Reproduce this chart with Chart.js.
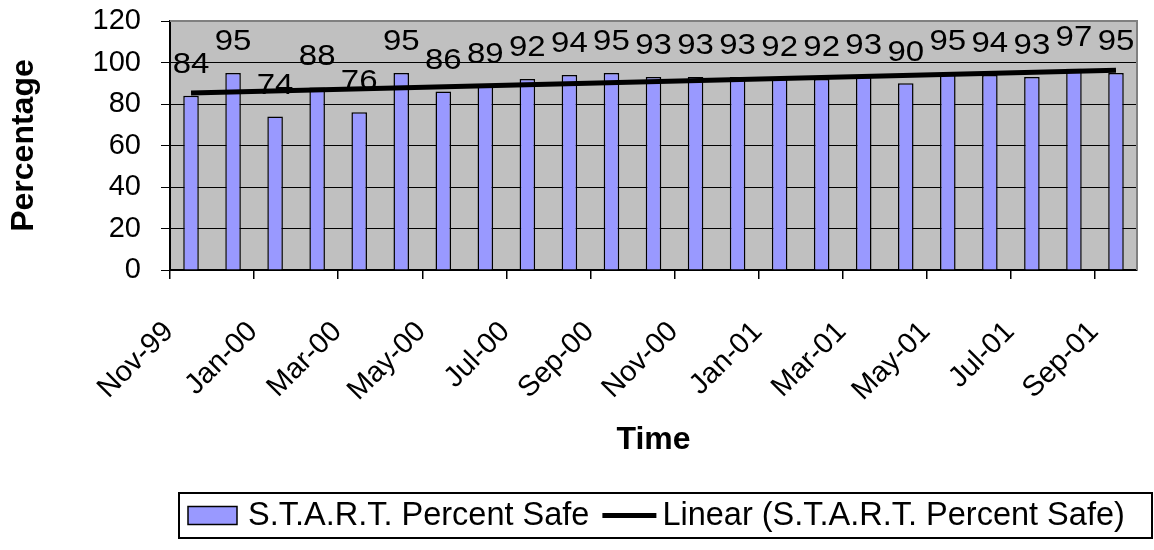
<!DOCTYPE html>
<html>
<head>
<meta charset="utf-8">
<script src="https://cdn.jsdelivr.net/npm/chart.js@4.4.1/dist/chart.umd.min.js"></script>
<style>
html,body{margin:0;padding:0;background:#ffffff;}
#wrap{width:1154px;height:550px;position:relative;}
</style>
</head>
<body>
<div id="wrap"><canvas id="c"></canvas></div>
<script>
// ---- data ----
const categories = ['Nov-99','Dec-99','Jan-00','Feb-00','Mar-00','Apr-00','May-00','Jun-00','Jul-00','Aug-00','Sep-00','Oct-00','Nov-00','Dec-00','Jan-01','Feb-01','Mar-01','Apr-01','May-01','Jun-01','Jul-01','Aug-01','Sep-01'];
const safePercent = [84,95,74,88,76,95,86,89,92,94,95,93,93,93,92,92,93,90,95,94,93,97,95];
const trendEnds = [85.3, 96.3];            // linear trend value at first and last month
const yTicks = [0,20,40,60,80,100,120];
const seriesName = 'S.T.A.R.T. Percent Safe';
const trendName = 'Linear (S.T.A.R.T. Percent Safe)';
const xTitle = 'Time';
const yTitle = 'Percentage';

const FONT = '"Liberation Sans", Arial, Helvetica, sans-serif';
const BAR_FILL = '#9999ff';

const trendData = categories.map((c, i) => i === 0 ? trendEnds[0] : (i === categories.length - 1 ? trendEnds[1] : null));

const plotBg = {
  id: 'plotBg',
  beforeDraw(chart) {
    const {ctx, chartArea: a} = chart;
    ctx.save();
    ctx.fillStyle = '#c0c0c0';
    ctx.fillRect(a.left, a.top, a.right - a.left, a.bottom - a.top);
    ctx.restore();
  },
  afterDatasetsDraw(chart) {
    const {ctx, chartArea: a} = chart;
    ctx.save();
    ctx.strokeStyle = '#808080';
    ctx.lineWidth = 2;
    ctx.beginPath();
    ctx.moveTo(a.left, a.top);
    ctx.lineTo(a.right, a.top);
    ctx.lineTo(a.right, a.bottom);
    ctx.stroke();
    // data labels
    const meta = chart.getDatasetMeta(0);
    const ys = chart.scales.y;
    ctx.fillStyle = '#000';
    ctx.font = '30px ' + FONT;
    ctx.textAlign = 'center';
    ctx.textBaseline = 'middle';
    meta.data.forEach((bar, i) => {
      const v = chart.data.datasets[0].data[i];
      ctx.save();
      ctx.translate(bar.x, ys.getPixelForValue(v) - 31);
      ctx.scale(1.1, 1);
      ctx.fillText(String(v), 0, 0);
      ctx.restore();
    });
    ctx.restore();
  }
};

const boxLegend = {
  id: 'boxLegend',
  afterDraw(chart) {
    const ctx = chart.ctx;
    const top = 493, bottom = 538, left = 179, right = 1152;
    const midY = (top + bottom) / 2;
    ctx.save();
    ctx.fillStyle = '#fff';
    ctx.fillRect(left, top, right - left, bottom - top);
    ctx.strokeStyle = '#000';
    ctx.lineWidth = 2;
    ctx.strokeRect(left, top, right - left, bottom - top);
    // bar swatch
    ctx.fillStyle = BAR_FILL;
    ctx.fillRect(188, midY - 9, 49, 18);
    ctx.lineWidth = 1.5;
    ctx.strokeRect(188, midY - 9, 49, 18);
    ctx.font = '32.5px ' + FONT;
    ctx.fillStyle = '#000';
    ctx.textAlign = 'left';
    ctx.textBaseline = 'middle';
    const t1x = 248;
    ctx.fillText(chart.data.datasets[0].label, t1x, midY + 1);
    const w1 = ctx.measureText(chart.data.datasets[0].label).width;
    const lx = t1x + w1 + 13;
    ctx.lineWidth = 5;
    ctx.beginPath();
    ctx.moveTo(lx, midY);
    ctx.lineTo(lx + 54, midY);
    ctx.stroke();
    ctx.fillText(chart.data.datasets[1].label, lx + 60, midY + 1);
    ctx.restore();
  }
};

new Chart(document.getElementById('c'), {
  type: 'bar',
  data: {
    labels: categories,
    datasets: [
      {
        type: 'bar',
        label: seriesName,
        data: safePercent,
        backgroundColor: BAR_FILL,
        borderColor: '#000',
        borderWidth: 1.5,
        barPercentage: 0.37,
        categoryPercentage: 1,
        order: 2
      },
      {
        type: 'line',
        label: trendName,
        data: trendData,
        borderColor: '#000',
        borderWidth: 5,
        pointRadius: 0,
        spanGaps: true,
        fill: false,
        tension: 0,
        order: 1
      }
    ]
  },
  options: {
    responsive: true,
    maintainAspectRatio: false,
    animation: false,
    devicePixelRatio: 1,
    layout: { padding: { top: 21, right: 17, bottom: 90, left: 0 } },
    plugins: { legend: { display: false }, tooltip: { enabled: false } },
    scales: {
      x: {
        type: 'category',
        offset: true,
        afterFit(scale) {
          scale.height = 550 - 90 - 270;
          scale.paddingLeft = 0; scale.paddingRight = 0;
        },
        grid: {
          drawOnChartArea: false,
          offset: true,
          tickLength: 9,
          lineWidth: 1.5,
          tickColor: (ctx) => (ctx.index !== undefined && ctx.index % 2 === 0) ? '#000' : 'rgba(0,0,0,0)'
        },
        border: { display: true, color: '#000', width: 2 },
        ticks: {
          autoSkip: false,
          maxRotation: 45,
          minRotation: 45,
          padding: 36,
          labelOffset: -22,
          color: '#000',
          font: { family: FONT, size: 29 },
          callback: (v, i) => (i % 2 === 0 ? categories[i] : '')
        },
        title: {
          display: true,
          text: xTitle,
          color: '#000',
          font: { family: FONT, size: 32, weight: 'bold' },
          padding: { top: 0, bottom: 1 }
        }
      },
      y: {
        min: 0,
        max: 120,
        afterFit(scale) {
          scale.width = 170;
          scale.paddingTop = 0; scale.paddingBottom = 0;
        },
        afterBuildTicks(scale) { scale.ticks = yTicks.map(v => ({ value: v })); },
        grid: {
          color: '#000',
          lineWidth: 1,
          tickLength: 9,
          tickColor: '#000'
        },
        border: { display: true, color: '#000', width: 2 },
        ticks: {
          padding: 20,
          color: '#000',
          font: { family: FONT, size: 29 }
        },
        title: {
          display: true,
          text: yTitle,
          color: '#000',
          font: { family: FONT, size: 32, weight: 'bold' },
          padding: { top: 5, bottom: 0 }
        }
      }
    }
  },
  plugins: [plotBg, boxLegend]
});
</script>
</body>
</html>
